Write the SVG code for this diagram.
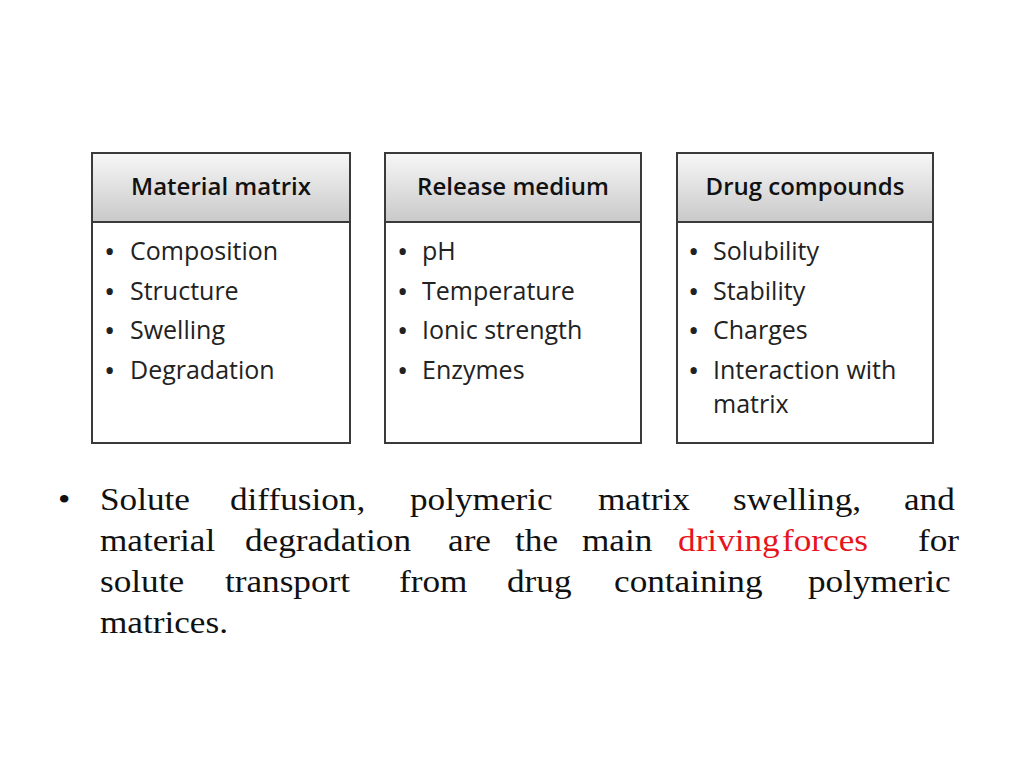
<svg xmlns="http://www.w3.org/2000/svg" width="1024" height="768" viewBox="0 0 1024 768">
<defs>
<linearGradient id="hg" x1="0" y1="0" x2="0" y2="1"><stop offset="0" stop-color="#f7f7f7"/><stop offset="1" stop-color="#c9c9c9"/></linearGradient>
<style>
.box{fill:#fff;stroke:#3a3a3a;stroke-width:2}
.hd{fill:url(#hg);stroke:#3a3a3a;stroke-width:2}
.ht{font-family:"Open Sans","Noto Sans",sans-serif;font-weight:600;font-size:24px;fill:#111;text-anchor:middle}
.it{font-family:"Open Sans","Noto Sans",sans-serif;font-size:25px;fill:#222}
.b{font-family:"Open Sans","Noto Sans",sans-serif;font-size:30px;fill:#222}
.p{font-family:"Liberation Serif",serif;font-size:32px;fill:#111}
.r{fill:#e8141c}
</style>
</defs>
<rect width="1024" height="768" fill="#fff"/>
<g id="material">
<rect class="box" x="92" y="153" width="258" height="290"/>
<rect class="hd" x="92" y="153" width="258" height="69"/>
<text class="ht" x="221" y="195">Material matrix</text>
<g class="b"><text x="104" y="262">•</text><text x="104" y="302">•</text><text x="104" y="341">•</text><text x="104" y="381">•</text></g>
<text class="it" x="130" y="260">Composition</text>
<text class="it" x="130" y="300">Structure</text>
<text class="it" x="130" y="339">Swelling</text>
<text class="it" x="130" y="379">Degradation</text>
</g>
<g id="release">
<rect class="box" x="385" y="153" width="256" height="290"/>
<rect class="hd" x="385" y="153" width="256" height="69"/>
<text class="ht" x="513" y="195">Release medium</text>
<g class="b"><text x="397" y="262">•</text><text x="397" y="302">•</text><text x="397" y="341">•</text><text x="397" y="381">•</text></g>
<text class="it" x="422" y="260">pH</text>
<text class="it" x="422" y="300">Temperature</text>
<text class="it" x="422" y="339">Ionic strength</text>
<text class="it" x="422" y="379">Enzymes</text>
</g>
<g id="drug">
<rect class="box" x="677" y="153" width="256" height="290"/>
<rect class="hd" x="677" y="153" width="256" height="69"/>
<text class="ht" x="805" y="195">Drug compounds</text>
<g class="b"><text x="688" y="262">•</text><text x="688" y="302">•</text><text x="688" y="341">•</text><text x="688" y="381">•</text></g>
<text class="it" x="713" y="260">Solubility</text>
<text class="it" x="713" y="300">Stability</text>
<text class="it" x="713" y="339">Charges</text>
<text class="it" x="713" y="379">Interaction with</text>
<text class="it" x="713" y="413">matrix</text>
</g>
<g id="connectors"/>
<g id="paragraph" transform="scale(1.1,1)">
<text class="p" x="52.7" y="510">•</text>
<text class="p" y="510"><tspan x="90.9">Solute</tspan><tspan x="209.1">diffusion,</tspan><tspan x="372.7">polymeric</tspan><tspan x="543.6">matrix</tspan><tspan x="666.4">swelling,</tspan><tspan x="821.8">and</tspan></text>
<text class="p" y="551"><tspan x="90.9">material</tspan><tspan x="222.7">degradation</tspan><tspan x="407.3">are</tspan><tspan x="468.2">the</tspan><tspan x="529.1">main</tspan><tspan x="616.4" class="r">driving</tspan><tspan x="710.9" class="r">forces</tspan><tspan x="834.5">for</tspan></text>
<text class="p" y="592"><tspan x="90.9">solute</tspan><tspan x="204.5">transport</tspan><tspan x="362.7">from</tspan><tspan x="460.9">drug</tspan><tspan x="558.2">containing</tspan><tspan x="734.5">polymeric</tspan></text>
<text class="p" x="90.9" y="633">matrices.</text>
</g>
</svg>
